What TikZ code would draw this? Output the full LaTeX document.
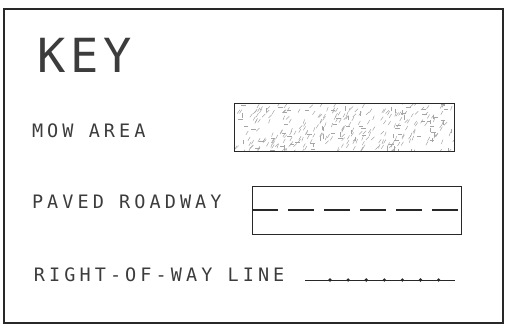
\documentclass[tikz,border=0pt]{standalone}
\usepackage{fontspec}
\setmainfont{DejaVu Sans Mono}
\newfontfamily\keyfont[LetterSpace=22]{DejaVu Sans Mono}
\newfontfamily\keytitlefont[LetterSpace=11]{DejaVu Sans Mono}
\usepackage{tikz}
\usetikzlibrary{positioning,calc}
\definecolor{inkgray}{RGB}{40,40,40}
\definecolor{textgray}{RGB}{60,60,60}
\definecolor{hatchgray}{RGB}{165,165,165}

\begin{document}
\begin{tikzpicture}[x=1pt,y=-1pt,
  every node/.style={inner sep=0pt, outer sep=0pt, text=textgray},
  label/.style={anchor=west, font=\keyfont\fontsize{18.5}{18.5}\selectfont},
  swatch/.style={draw=inkgray, line width=0.8pt, anchor=north west},
  roadline/.style={draw=inkgray, line width=1.3pt, dash pattern=on 26pt off 10pt},
  rowdot/.style={fill=inkgray, circle, minimum size=3.6pt},
]
\useasboundingbox (0,0) rectangle (506,329);

% outer frame
\draw[inkgray, line width=1.6pt] (4,9) rectangle (503,323);

% title
\node[anchor=west, font=\keytitlefont\fontsize{47}{47}\selectfont] (keytitle) at (37,55) {KEY};

% mow area
\node[label] (mowlabel) at (32,131) {MOW AREA};
\node[swatch, minimum width=220pt, minimum height=48pt] (mowbox) at (234,103) {};
\begin{scope}
  \clip (mowbox.north west) rectangle (mowbox.south east);
  \pgfmathsetseed{4711}
  \foreach \i in {1,...,360} {
    \pgfmathsetmacro\hx{234+rnd*222}
    \pgfmathsetmacro\hy{100+rnd*54}
    \pgfmathsetmacro\ha{{-60,-60,-60,-55,-70,-90,0,-45}[int(rnd*8)]}
    \draw[hatchgray, line width=0.5pt] (\hx,\hy) -- ++(\ha:4.5);
  }
\end{scope}
\draw[inkgray, line width=0.8pt] (mowbox.north west) rectangle (mowbox.south east);

% paved roadway
\node[label] (pavedlabel) at (32,202) {PAVED ROADWAY};
\node[swatch, minimum width=209pt, minimum height=48pt] (pavedbox) at (252,186) {};
\draw[roadline] (pavedbox.west) -- (pavedbox.east);

% right-of-way line
\node[label] (rowlabel) at (34,275) {RIGHT-OF-WAY LINE};
\coordinate (rowstart) at (305,280);
\coordinate (rowend) at (455,280);
\draw[inkgray, line width=0.6pt] (rowstart) -- (rowend);
\foreach \k in {0,...,6}
  \node[rowdot] (rowdot\k) at ($(rowstart)+(25+\k*18.1,0)$) {};
\end{tikzpicture}
\end{document}
